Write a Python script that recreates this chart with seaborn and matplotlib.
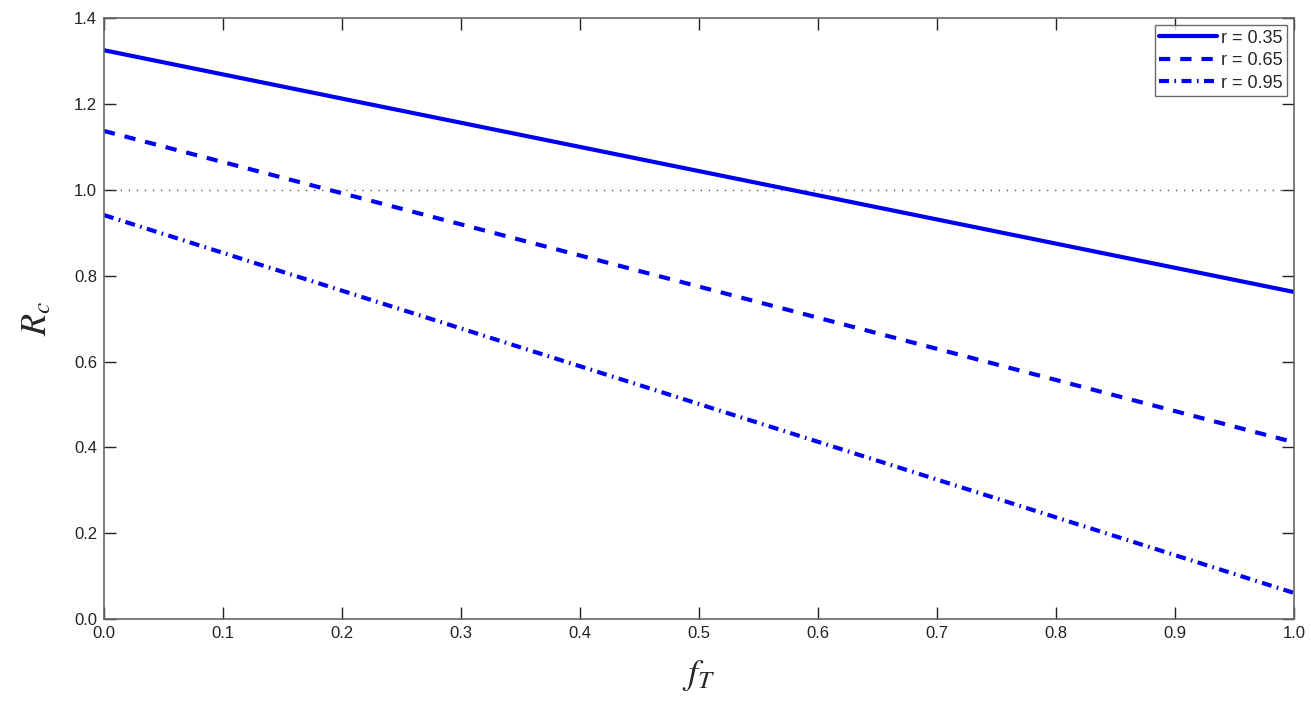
import pandas as pd
import numpy as np
from matplotlib import pyplot as plt
import seaborn as sns

# values (lines are straight, so end points are enough)
f_T = [0.0, 1.0]
rc_035 = [1.325, 0.762]
rc_065 = [1.137, 0.412]
rc_095 = [0.941, 0.061]
labels = ["r = 0.35", "r = 0.65", "r = 0.95"]

df = pd.DataFrame({
    "f_T": f_T * 3,
    "Rc": rc_035 + rc_065 + rc_095,
    "r": [labels[0]] * 2 + [labels[1]] * 2 + [labels[2]] * 2,
})

sns.set_style("ticks")
plt.rcParams["font.family"] = ["Liberation Sans", "DejaVu Sans"]
plt.rcParams["mathtext.fontset"] = "stix"

fig = plt.figure(figsize=(13.11, 7.10), dpi=100)
ax = fig.add_axes([0.0793, 0.128, 0.9077, 0.8466])

ax.axhline(1.0, color="#555555", lw=1, ls=(0, (1, 4.8)), zorder=1)

sns.lineplot(data=df, x="f_T", y="Rc", style="r", color="#0000f0", lw=3,
             dashes={labels[0]: "", labels[1]: (2.7, 2.4), labels[2]: (2.4, 1.3, 0.4, 1.3)},
             ax=ax, legend=True)

ax.set_xlim(0, 1)
ax.set_ylim(0, 1.4)
ax.set_xticks(np.arange(0, 1.01, 0.1))
ax.set_yticks(np.arange(0, 1.41, 0.2))
ax.set_xticklabels([f"{v:.1f}" for v in np.arange(0, 1.01, 0.1)])
ax.set_yticklabels([f"{v:.1f}" for v in np.arange(0, 1.41, 0.2)])
ax.tick_params(direction="in", length=8.5, width=1, labelsize=12, colors="#222222",
               top=True, right=True, pad=5)
for s in ax.spines.values():
    s.set_color("#666666")
    s.set_linewidth(1.2)

ax.set_xlabel(r"$f_T$", fontsize=26, labelpad=12)
ax.set_ylabel(r"$R_c$", fontsize=26, labelpad=14)

leg = ax.legend(loc="upper right", fontsize=13, frameon=True, fancybox=False,
                handlelength=3.2, handletextpad=0.2, borderpad=0.25, labelspacing=0.3,
                borderaxespad=0.4)
leg.get_frame().set_edgecolor("#444444")
leg.get_frame().set_linewidth(1)
for h in leg.get_lines():
    h.set_linewidth(3)

fig.savefig("out.png", dpi=100)
